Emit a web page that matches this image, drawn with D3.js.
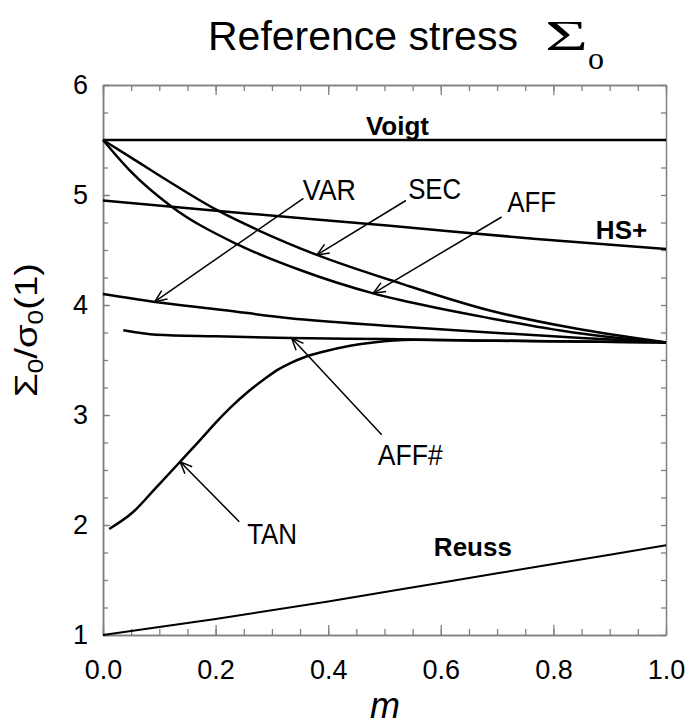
<!DOCTYPE html>
<html>
<head>
<meta charset="utf-8">
<script src="https://cdn.jsdelivr.net/npm/d3@7"></script>
<style>
  body { margin: 0; background: #fff; }
  text { font-family: "Liberation Sans", Arial, sans-serif; fill: #000; }
</style>
</head>
<body>
<div id="chart"></div>
<script>
const width = 688;
const height = 726;

// series: [m, Sigma0/sigma0(1)]
const voigt = [[0, 5.5], [1, 5.5]];
const hsPlus = [[0, 4.95], [0.25, 4.835], [0.51, 4.72], [0.77, 4.6], [1, 4.51]];
const sec = [[0, 5.5], [0.05, 5.34], [0.113, 5.136], [0.202, 4.864], [0.28, 4.67], [0.38, 4.455],
  [0.528, 4.197], [0.687, 3.95], [0.835, 3.79], [1, 3.66]];
const aff = [[0, 5.5], [0.05, 5.21], [0.122, 4.894], [0.237, 4.555], [0.35, 4.318], [0.48, 4.106],
  [0.528, 4.045], [0.687, 3.88], [0.835, 3.75], [1, 3.66]];
const varC = [[0, 4.1], [0.089, 4.03], [0.213, 3.955], [0.332, 3.88], [0.51, 3.81], [0.687, 3.75],
  [0.85, 3.7], [1, 3.66]];
const affSharp = [[0.036, 3.77], [0.095, 3.73], [0.2, 3.715], [0.332, 3.7], [0.5, 3.69], [0.7, 3.675], [1, 3.66]];
const tan = [[0.011, 1.964], [0.054, 2.12], [0.089, 2.31], [0.137, 2.575], [0.172, 2.77], [0.202, 2.94],
  [0.231, 3.09], [0.255, 3.2], [0.285, 3.32], [0.31, 3.41], [0.332, 3.47], [0.36, 3.53],
  [0.391, 3.575], [0.439, 3.63], [0.48, 3.66], [0.55, 3.683], [0.7, 3.675], [0.85, 3.668], [1, 3.66]];
const reuss = [[0, 1], [0.2, 1.145], [0.4, 1.305], [0.6, 1.475], [0.8, 1.645], [1, 1.815]];

const xTicks = [0, 0.2, 0.4, 0.6, 0.8, 1.0];
const yTicks = [1, 2, 3, 4, 5, 6];

// arrow labels: text anchor, arrow tail, arrow tip (data units)
const arrowLabels = [
  { name: "VAR", at: [0.355, 4.955], len: 53, from: [0.356, 4.97], to: [0.092, 4.03] },
  { name: "SEC", at: [0.542, 4.964], len: 53, from: [0.538, 4.95], to: [0.38, 4.455] },
  { name: "AFF", at: [0.718, 4.845], len: 49, from: [0.708, 4.8], to: [0.48, 4.106] },
  { name: "AFF#", at: [0.488, 2.545], len: 65, from: [0.495, 2.82], to: [0.335, 3.7] },
  { name: "TAN", at: [0.256, 1.827], len: 50, from: [0.242, 2.03], to: [0.137, 2.575] }
];
const boldLabels = [
  { name: "Voigt", at: [0.523, 5.55] },
  { name: "HS+", at: [0.921, 4.6] },
  { name: "Reuss", at: [0.657, 1.718] }
];

const x = d3.scaleLinear().domain([0, 1]).range([103, 666]);
const y = d3.scaleLinear().domain([1, 6]).range([635, 85]);

const svg = d3.select("#chart").append("svg")
  .attr("width", width)
  .attr("height", height);

svg.append("rect").attr("width", width).attr("height", height).attr("fill", "#fff");

// title
svg.append("text")
  .attr("x", 208)
  .attr("y", 50)
  .attr("font-size", 41)
  .text("Reference stress");
svg.append("text")
  .attr("x", 545)
  .attr("y", 50)
  .attr("font-size", 42)
  .attr("textLength", 43)
  .attr("lengthAdjust", "spacingAndGlyphs")
  .style("font-family", "'Liberation Serif', 'Times New Roman', serif")
  .text("Σ");
svg.append("text")
  .attr("x", 588)
  .attr("y", 69)
  .attr("font-size", 32)
  .style("font-family", "'Liberation Serif', 'Times New Roman', serif")
  .text("o");

// axes
const axisColor = "#808080";
function styleAxis(g) {
  g.selectAll("path.domain").attr("stroke", axisColor).attr("stroke-width", 1.5);
  g.selectAll(".tick line").attr("stroke", axisColor).attr("stroke-width", 1.3);
  g.selectAll(".tick text").attr("font-size", 27).attr("fill", "#000")
    .style("font-family", "'Liberation Sans', Arial, sans-serif");
}
const xMinor = d3.range(0, 1.0001, 0.05);
const yMinor = d3.range(1, 6.0001, 0.25);

svg.append("g").attr("transform", `translate(0,${y(1)})`)
  .call(d3.axisBottom(x).tickValues(xMinor).tickSize(-6).tickSizeOuter(0).tickFormat(""))
  .call(styleAxis);
svg.append("g").attr("transform", `translate(0,${y(1)})`)
  .call(d3.axisBottom(x).tickValues(xTicks).tickSize(-10).tickSizeOuter(0).tickPadding(25)
    .tickFormat(d3.format(".1f")))
  .call(styleAxis);
svg.append("g").attr("transform", `translate(0,${y(6)})`)
  .call(d3.axisTop(x).tickValues(xMinor).tickSize(-6).tickSizeOuter(0).tickFormat(""))
  .call(styleAxis);
svg.append("g").attr("transform", `translate(0,${y(6)})`)
  .call(d3.axisTop(x).tickValues(xTicks).tickSize(-10).tickSizeOuter(0).tickFormat(""))
  .call(styleAxis);
svg.append("g").attr("transform", `translate(${x(0)},0)`)
  .call(d3.axisLeft(y).tickValues(yMinor).tickSize(-5).tickSizeOuter(0).tickFormat(""))
  .call(styleAxis);
svg.append("g").attr("transform", `translate(${x(0)},0)`)
  .call(d3.axisLeft(y).tickValues(yTicks).tickSize(-7).tickSizeOuter(0).tickPadding(15)
    .tickFormat(d3.format("d")))
  .call(styleAxis);
svg.append("g").attr("transform", `translate(${x(1)},0)`)
  .call(d3.axisRight(y).tickValues(yMinor).tickSize(-5).tickSizeOuter(0).tickFormat(""))
  .call(styleAxis);

// axis labels
svg.append("text")
  .attr("x", 385)
  .attr("y", 718)
  .attr("text-anchor", "middle")
  .attr("font-size", 36)
  .attr("font-style", "italic")
  .text("m");

const yLabel = svg.append("text")
  .attr("transform", "translate(37,330) rotate(-90)")
  .attr("text-anchor", "middle")
  .attr("font-size", 32)
  .attr("textLength", 134)
  .attr("lengthAdjust", "spacingAndGlyphs");
yLabel.append("tspan").text("Σ");
yLabel.append("tspan").attr("font-size", 22).attr("dy", 6).text("0");
yLabel.append("tspan").attr("dy", -6).text("/σ");
yLabel.append("tspan").attr("font-size", 22).attr("dy", 6).text("0");
yLabel.append("tspan").attr("dy", -6).text("(1)");

// curves
const line = d3.line()
  .x(d => x(d[0]))
  .y(d => y(d[1]))
  .curve(d3.curveMonotoneX);

const curves = [voigt, hsPlus, sec, aff, varC, affSharp, tan, reuss];
svg.append("g")
  .selectAll("path")
  .data(curves)
  .join("path")
  .attr("d", line)
  .attr("fill", "none")
  .attr("stroke", "#000")
  .attr("stroke-width", (d, i) => i === 7 ? 2 : 2.5)
  .attr("stroke-linejoin", "round");

// arrows with open heads
const arrows = svg.append("g")
  .attr("stroke", "#000")
  .attr("stroke-width", 1.5)
  .attr("fill", "none");
arrowLabels.forEach(a => {
  const x1 = x(a.from[0]), y1 = y(a.from[1]);
  const x2 = x(a.to[0]), y2 = y(a.to[1]);
  const ang = Math.atan2(y1 - y2, x1 - x2);
  const head = 13, spread = 0.4;
  arrows.append("line").attr("x1", x1).attr("y1", y1).attr("x2", x2).attr("y2", y2);
  arrows.append("path")
    .attr("d", `M${x2 + head * Math.cos(ang - spread)},${y2 + head * Math.sin(ang - spread)}` +
      `L${x2},${y2}` +
      `L${x2 + head * Math.cos(ang + spread)},${y2 + head * Math.sin(ang + spread)}`);
});

svg.append("g")
  .selectAll("text")
  .data(arrowLabels)
  .join("text")
  .attr("x", d => x(d.at[0]))
  .attr("y", d => y(d.at[1]))
  .attr("font-size", 29)
  .attr("textLength", d => d.len)
  .attr("lengthAdjust", "spacingAndGlyphs")
  .text(d => d.name);

svg.append("g")
  .selectAll("text")
  .data(boldLabels)
  .join("text")
  .attr("x", d => x(d.at[0]))
  .attr("y", d => y(d.at[1]))
  .attr("text-anchor", "middle")
  .attr("font-size", 26)
  .attr("font-weight", "bold")
  .text(d => d.name);
</script>
</body>
</html>
